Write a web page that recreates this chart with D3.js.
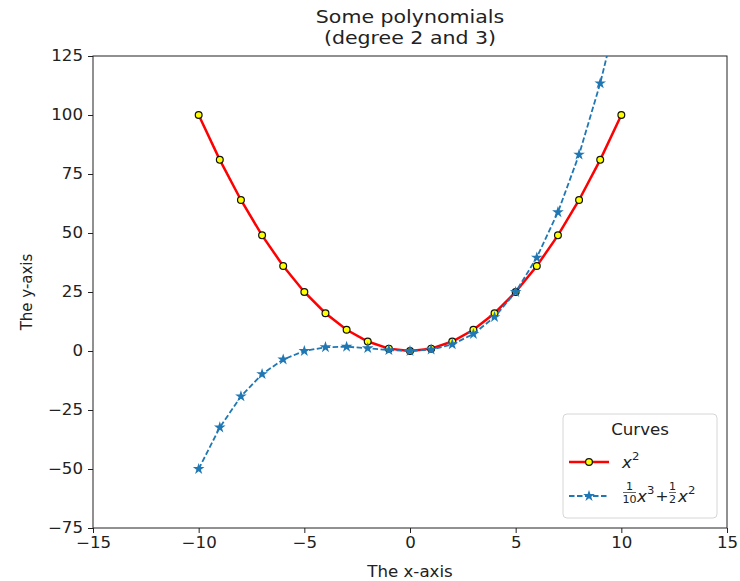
<!DOCTYPE html>
<html>
<head>
<meta charset="utf-8">
<script src="https://cdn.jsdelivr.net/npm/d3@7"></script>
<style>
  html, body { margin: 0; padding: 0; background: #fff; }
  svg { display: block; font-family: "DejaVu Sans", sans-serif; }
</style>
</head>
<body>
<svg id="chart" width="740" height="581"></svg>
<script>
// Sample points on [-10, 10]
const xValues = [-10, -9, -8, -7, -6, -5, -4, -3, -2, -1, 0, 1, 2, 3, 4, 5, 6, 7, 8, 9, 10];
// x^2
const squareValues = [100, 81, 64, 49, 36, 25, 16, 9, 4, 1, 0, 1, 4, 9, 16, 25, 36, 49, 64, 81, 100];
// x^3/10 + x^2/2
const cubicValues = [-50, -32.4, -19.2, -9.8, -3.6, 0, 1.6, 1.8, 1.2, 0.4, 0, 0.6, 2.8, 7.2, 14.4, 25, 39.6, 58.8, 83.2, 113.4, 150];
const xTicks = [-15, -10, -5, 0, 5, 10, 15];
const yTicks = [-75, -50, -25, 0, 25, 50, 75, 100, 125];
const titleLines = ["Some polynomials", "(degree 2 and 3)"];
const legendTitle = "Curves";

const svg = d3.select("#chart");
const plot = { left: 93, right: 727, top: 56, bottom: 528 };
const stretch = "scale(1.11,1)";

const x = d3.scaleLinear().domain([-15, 15]).range([plot.left, plot.right]);
const y = d3.scaleLinear().domain([-75, 125]).range([plot.bottom, plot.top]);

svg.append("defs").append("clipPath").attr("id", "plot-clip")
  .append("rect")
  .attr("x", plot.left).attr("y", plot.top)
  .attr("width", plot.right - plot.left).attr("height", plot.bottom - plot.top);

// Axes
const fmt = d3.format("d");
const xAxis = svg.append("g")
  .attr("transform", `translate(0,${plot.bottom})`)
  .call(d3.axisBottom(x).tickValues(xTicks).tickFormat(fmt).tickSize(5).tickPadding(4));
const yAxis = svg.append("g")
  .attr("transform", `translate(${plot.left},0)`)
  .call(d3.axisLeft(y).tickValues(yTicks).tickFormat(fmt).tickSize(5).tickPadding(4));
[xAxis, yAxis].forEach(g => {
  g.select(".domain").remove();
  g.selectAll(".tick line").attr("stroke", "#222").attr("stroke-width", 1);
  g.selectAll(".tick text")
    .attr("fill", "#222")
    .style("font-size", "15px")
    .style("font-family", "DejaVu Sans, sans-serif")
    .attr("transform", stretch);
});

// Frame
svg.append("rect")
  .attr("x", plot.left).attr("y", plot.top)
  .attr("width", plot.right - plot.left).attr("height", plot.bottom - plot.top)
  .attr("fill", "none").attr("stroke", "#222").attr("stroke-width", 1);

// Curves: each series draws its line then its markers, the cubic on top
const layer = svg.append("g").attr("clip-path", "url(#plot-clip)");
const squarePts = xValues.map((v, i) => [v, squareValues[i]]);
const cubicPts = xValues.map((v, i) => [v, cubicValues[i]]);
const line = d3.line().x(d => x(d[0])).y(d => y(d[1]));
const star = d3.symbol().type(d3.symbolStar).size(42);

layer.append("path").datum(squarePts)
  .attr("d", line).attr("fill", "none")
  .attr("stroke", "#ff0000").attr("stroke-width", 2.5);

layer.append("g").selectAll("circle").data(squarePts).join("circle")
  .attr("cx", d => x(d[0])).attr("cy", d => y(d[1])).attr("r", 3.4)
  .attr("fill", "#ffff00").attr("stroke", "#111").attr("stroke-width", 1.2);

layer.append("path").datum(cubicPts)
  .attr("d", line).attr("fill", "none")
  .attr("stroke", "#1f77b4").attr("stroke-width", 1.8)
  .attr("stroke-dasharray", "5.5,2.5");

layer.append("g").selectAll("path").data(cubicPts).join("path")
  .attr("d", star)
  .attr("transform", d => `translate(${x(d[0])},${y(d[1])})`)
  .attr("fill", "#1f77b4");

// Titles and axis labels
titleLines.forEach((t, i) => {
  svg.append("text")
    .attr("transform", `translate(${(plot.left + plot.right) / 2},${23 + i * 21}) ${stretch}`)
    .attr("text-anchor", "middle")
    .style("font-size", "18.5px").attr("fill", "#222")
    .text(t);
});

svg.append("text")
  .attr("transform", `translate(${(plot.left + plot.right) / 2},577) ${stretch}`)
  .attr("text-anchor", "middle").style("font-size", "15px").attr("fill", "#222")
  .text("The x-axis");

svg.append("text")
  .attr("transform", `translate(32,${(plot.top + plot.bottom) / 2}) rotate(-90) scale(1,1.11)`)
  .attr("text-anchor", "middle").style("font-size", "15px").attr("fill", "#222")
  .text("The y-axis");

// Legend
const lg = svg.append("g");
lg.append("rect")
  .attr("x", 563).attr("y", 414).attr("width", 154).attr("height", 104)
  .attr("rx", 4).attr("fill", "#fff").attr("fill-opacity", 0.85)
  .attr("stroke", "#d6d6d6").attr("stroke-width", 1);

lg.append("text")
  .attr("transform", `translate(640,435) ${stretch}`)
  .attr("text-anchor", "middle").style("font-size", "15px").attr("fill", "#222")
  .text(legendTitle);

function mathText(parent, px, py, str, opts = {}) {
  return parent.append("text")
    .attr("transform", `translate(${px},${py}) ${stretch}`)
    .style("font-size", (opts.size || 15) + "px")
    .style("font-style", opts.italic ? "italic" : "normal")
    .attr("text-anchor", opts.anchor || "start")
    .attr("fill", "#222")
    .text(str);
}

// entry: x^2
lg.append("line").attr("x1", 569).attr("x2", 609).attr("y1", 462).attr("y2", 462)
  .attr("stroke", "#ff0000").attr("stroke-width", 2.5);
lg.append("circle").attr("cx", 589).attr("cy", 462).attr("r", 3.4)
  .attr("fill", "#ffff00").attr("stroke", "#111").attr("stroke-width", 1.2);
mathText(lg, 622, 468, "x", { italic: true });
mathText(lg, 632, 460, "2", { size: 10.5 });

// entry: x^3/10 + x^2/2
lg.append("line").attr("x1", 569).attr("x2", 609).attr("y1", 496).attr("y2", 496)
  .attr("stroke", "#1f77b4").attr("stroke-width", 1.8).attr("stroke-dasharray", "5.5,2.5");
lg.append("path").attr("d", star).attr("transform", "translate(589,496)").attr("fill", "#1f77b4");

mathText(lg, 629.5, 489.5, "1", { size: 10, anchor: "middle" });
lg.append("line").attr("x1", 623).attr("x2", 636).attr("y1", 492.5).attr("y2", 492.5)
  .attr("stroke", "#222").attr("stroke-width", 0.7);
mathText(lg, 629.5, 503, "10", { size: 10, anchor: "middle" });
mathText(lg, 637, 502, "x", { italic: true });
mathText(lg, 647, 494, "3", { size: 10.5 });
mathText(lg, 662, 501, "+", { size: 14, anchor: "middle" });
mathText(lg, 672.5, 489.5, "1", { size: 10, anchor: "middle" });
lg.append("line").attr("x1", 669).attr("x2", 676).attr("y1", 492.5).attr("y2", 492.5)
  .attr("stroke", "#222").attr("stroke-width", 0.7);
mathText(lg, 672.5, 503, "2", { size: 10, anchor: "middle" });
mathText(lg, 678, 502, "x", { italic: true });
mathText(lg, 688, 494, "2", { size: 10.5 });
</script>
</body>
</html>
